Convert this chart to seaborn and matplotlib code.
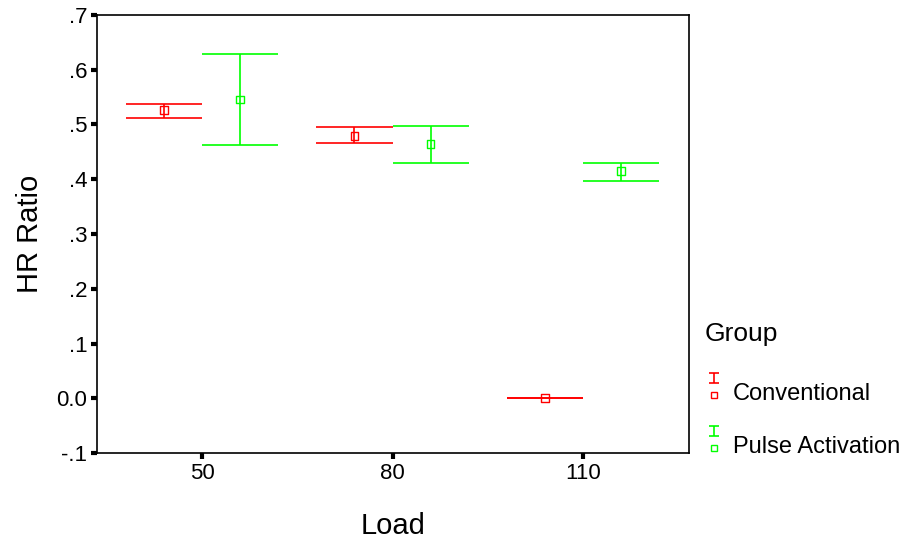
import matplotlib
matplotlib.use("Agg")
import matplotlib.pyplot as plt
import seaborn as sns
import pandas as pd
from matplotlib.lines import Line2D
from matplotlib.path import Path

# data
loads = ["50", "80", "110"]
groups = ["Conventional", "Pulse Activation"]
conv_mean = [0.526, 0.479, 0.000]
conv_low = [0.512, 0.467, 0.000]
conv_high = [0.537, 0.495, 0.000]
pulse_mean = [0.546, 0.464, 0.415]
pulse_low = [0.463, 0.429, 0.397]
pulse_high = [0.629, 0.498, 0.429]
ytick_vals = [-0.1, 0.0, 0.1, 0.2, 0.3, 0.4, 0.5, 0.6, 0.7]
ytick_labels = ["-.1", "0.0", ".1", ".2", ".3", ".4", ".5", ".6", ".7"]

colors = {"Conventional": "#ff0000", "Pulse Activation": "#00ff00"}
offsets = {"Conventional": -0.2, "Pulse Activation": 0.2}

rows = []
for i, ld in enumerate(loads):
    rows.append(dict(Load=ld, pos=i, Group="Conventional",
                     mean=conv_mean[i], low=conv_low[i], high=conv_high[i]))
    rows.append(dict(Load=ld, pos=i, Group="Pulse Activation",
                     mean=pulse_mean[i], low=pulse_low[i], high=pulse_high[i]))
df = pd.DataFrame(rows)
df["x"] = df["pos"] + df["Group"].map(offsets)

sns.set_style("white")
plt.rcParams["font.family"] = ["Liberation Sans", "DejaVu Sans"]
plt.rcParams["text.color"] = "black"
plt.rcParams["axes.labelcolor"] = "black"

fig = plt.figure(figsize=(9.08, 5.43), dpi=100)
ax = fig.add_axes([0.1068, 0.1657, 0.652, 0.8067])

cap = 0.2
for g, sub in df.groupby("Group"):
    c = colors[g]
    ax.vlines(sub["x"], sub["low"], sub["high"], color=c, lw=1.2)
    ax.hlines(sub["low"], sub["x"] - cap, sub["x"] + cap, color=c, lw=1.2)
    ax.hlines(sub["high"], sub["x"] - cap, sub["x"] + cap, color=c, lw=1.2)

sns.scatterplot(data=df, x="x", y="mean", hue="Group", palette=colors,
                marker="s", s=30, linewidth=1.0, legend=False, ax=ax, zorder=3)
coll = ax.collections[-1]
coll.set_facecolor("none")
coll.set_edgecolor([colors[g] for g in df["Group"]])

ax.set_xlim(-0.551, 2.556)
ax.set_ylim(-0.1, 0.7)
ax.set_xticks(range(len(loads)))
ax.set_xticklabels(loads)
ax.set_yticks(ytick_vals)
ax.set_yticklabels(ytick_labels)
ax.tick_params(axis="both", labelsize=16, length=4, width=3, color="black",
               labelcolor="black", direction="out", pad=3,
               bottom=True, left=True)
for s in ax.spines.values():
    s.set_color("black")
    s.set_linewidth(1.2)

ax.set_xlabel("Load", fontsize=21, labelpad=20)
ax.set_ylabel("HR Ratio", fontsize=21, labelpad=9)

# legend drawn in figure coordinates to mimic the SPSS style
ibar = Path([(-1, 1), (1, 1), (0, 1), (0, -1), (-1, -1), (1, -1)],
            [Path.MOVETO, Path.LINETO, Path.MOVETO, Path.LINETO,
             Path.MOVETO, Path.LINETO])
fig.text(705 / 908, 1 - 334 / 543, "Group", fontsize=19, va="center", ha="left")
for k, g in enumerate(groups):
    y_txt = 394 + k * 53
    fig.text(733 / 908, 1 - y_txt / 543, g, fontsize=17, va="center", ha="left")
    fig.add_artist(Line2D([714 / 908], [1 - (y_txt + 1) / 543], marker="s", ms=5,
                          mfc="none", mec=colors[g], mew=1.0,
                          transform=fig.transFigure))
    fig.add_artist(Line2D([714 / 908], [1 - (y_txt - 16) / 543], marker=ibar,
                          ms=7, mfc="none", mec=colors[g], mew=1.2,
                          transform=fig.transFigure))

fig.savefig("out.png", dpi=100)
